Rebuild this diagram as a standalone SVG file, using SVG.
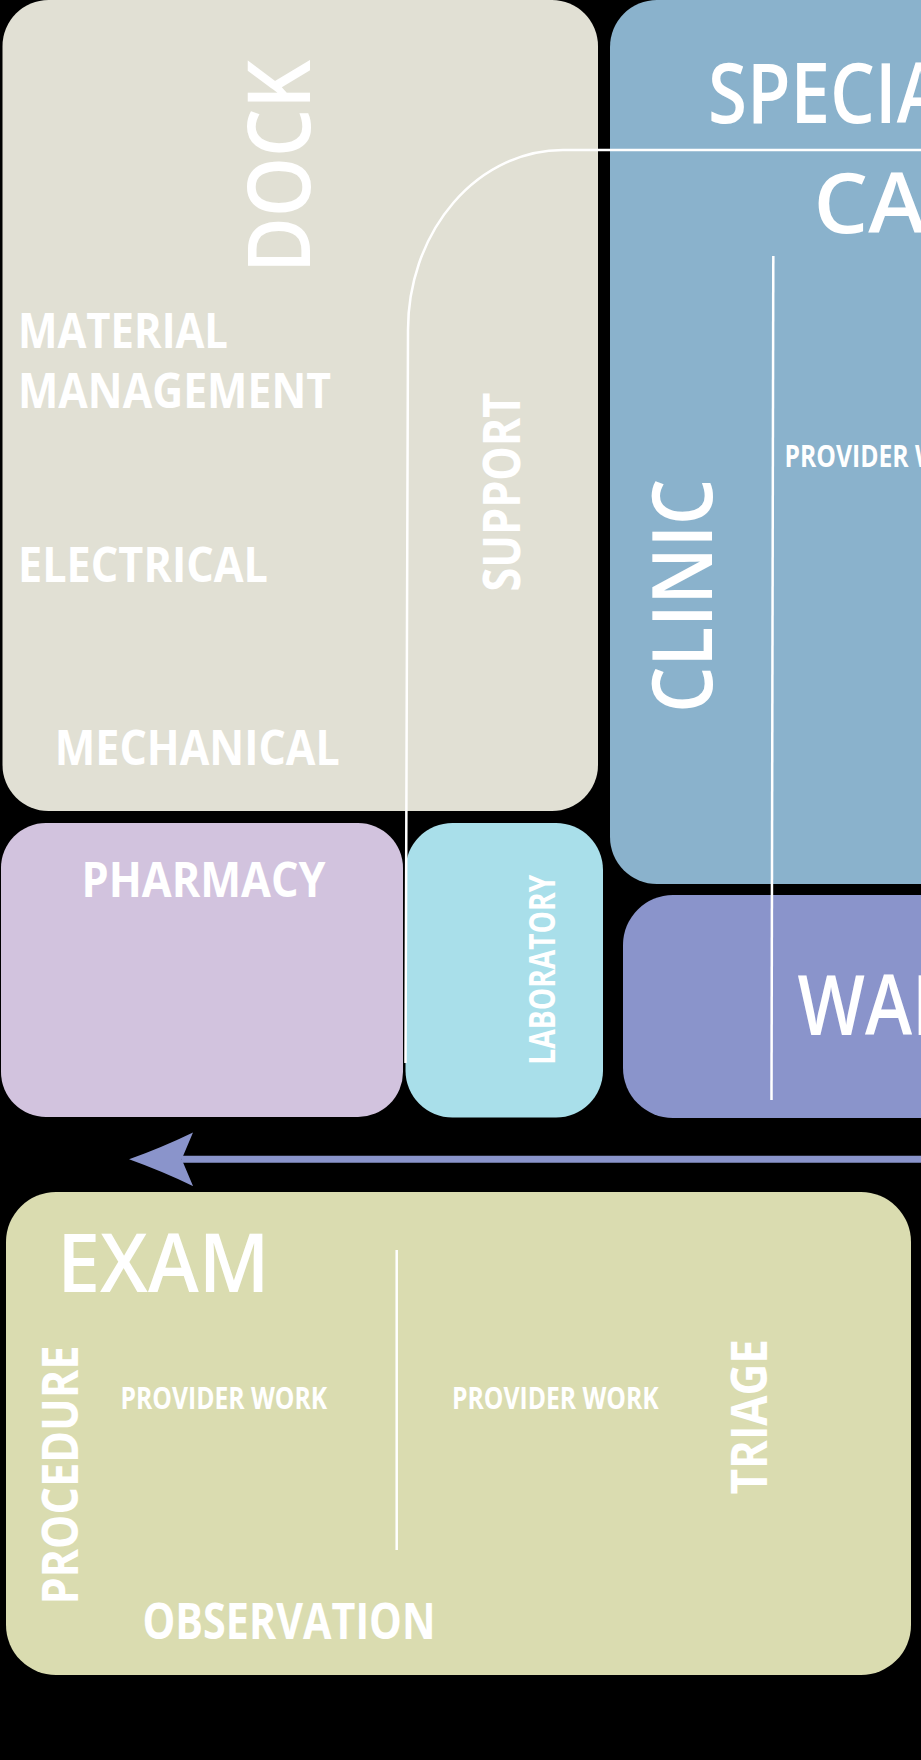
<svg xmlns="http://www.w3.org/2000/svg" width="921" height="1760" viewBox="0 0 921 1760">
  <style>
    .bg { fill: #000000; }
    .dock { fill: #E1E0D4; }
    .spec { fill: #8AB2CC; }
    .pharm { fill: #D2C3DE; }
    .lab { fill: #A9DFEA; }
    .wait { fill: #8A94CB; }
    .exam { fill: #DADCB0; }
    .lbl { fill: #FFFFFF; font-family: "Open Sans", "Noto Sans", "DejaVu Sans", sans-serif; }
    .big { font-weight: 600; }
    .bold { font-weight: 700; }
    .divider { fill: none; stroke: #FFFFFF; stroke-width: 2.5; }
    .flow { fill: none; stroke: #8A94CB; stroke-width: 7; }
  </style>
  <defs>
    <marker id="arrowhead" markerUnits="userSpaceOnUse" markerWidth="64" markerHeight="54" viewBox="0 0 62 52" refX="11" refY="26" orient="auto">
      <path d="M0,0 Q30,14.5 62,26 Q30,37.5 0,52 L11,26 Z" fill="#8A94CB"/>
    </marker>
  </defs>

  <rect class="bg" x="0" y="0" width="921" height="1760"/>

  <g id="dock">
    <rect class="dock" x="2.5" y="0" width="595.5" height="811" rx="46" ry="46"/>
    <text class="lbl big" font-size="87" textLength="213" lengthAdjust="spacingAndGlyphs" transform="translate(310,273) rotate(-90)">DOCK</text>
    <text class="lbl bold" x="18" y="348" font-size="49" textLength="210" lengthAdjust="spacingAndGlyphs">MATERIAL</text>
    <text class="lbl bold" x="18" y="408" font-size="49" textLength="313" lengthAdjust="spacingAndGlyphs">MANAGEMENT</text>
    <text class="lbl bold" x="18" y="581.7" font-size="49" textLength="250" lengthAdjust="spacingAndGlyphs">ELECTRICAL</text>
    <text class="lbl bold" x="54.8" y="765" font-size="49" textLength="285" lengthAdjust="spacingAndGlyphs">MECHANICAL</text>
    <text class="lbl bold" font-size="52" textLength="199" lengthAdjust="spacingAndGlyphs" transform="translate(520,591.6) rotate(-90)">SUPPORT</text>
  </g>

  <g id="specialty-care">
    <rect class="spec" x="610" y="0" width="400" height="884" rx="47" ry="47"/>
    <text class="lbl big" x="708" y="122.7" font-size="84" textLength="356" lengthAdjust="spacingAndGlyphs">SPECIALTY</text>
    <text class="lbl big" x="813.6" y="233" font-size="84" textLength="215" lengthAdjust="spacingAndGlyphs">CARE</text>
    <text class="lbl big" font-size="84" textLength="234" lengthAdjust="spacingAndGlyphs" transform="translate(711.7,712.8) rotate(-90)">CLINIC</text>
    <text class="lbl bold" x="784.5" y="466.5" font-size="30" textLength="206.7" lengthAdjust="spacingAndGlyphs">PROVIDER WORK</text>
  </g>

  <g id="pharmacy">
    <rect class="pharm" x="1" y="823" width="402" height="294" rx="45" ry="45"/>
    <text class="lbl bold" x="81.5" y="896.7" font-size="49" textLength="244" lengthAdjust="spacingAndGlyphs">PHARMACY</text>
  </g>

  <g id="laboratory">
    <rect class="lab" x="405.5" y="823" width="197.5" height="294.5" rx="47" ry="47"/>
    <text class="lbl bold" font-size="35" textLength="190" lengthAdjust="spacingAndGlyphs" transform="translate(555,1064.7) rotate(-90)">LABORATORY</text>
  </g>

  <g id="waiting">
    <rect class="wait" x="623" y="895" width="400" height="223" rx="50" ry="50"/>
    <text class="lbl big" x="797.5" y="1035" font-size="84" textLength="306" lengthAdjust="spacingAndGlyphs">WAITING</text>
  </g>

  <g id="exam">
    <rect class="exam" x="6" y="1192" width="905" height="483" rx="50" ry="50"/>
    <line class="divider" x1="396.7" y1="1250" x2="396.7" y2="1550" stroke-width="2"/>
    <text class="lbl big" x="57.2" y="1291.7" font-size="82" textLength="212.3" lengthAdjust="spacingAndGlyphs">EXAM</text>
    <text class="lbl bold" font-size="51" textLength="259" lengthAdjust="spacingAndGlyphs" transform="translate(78.3,1604.6) rotate(-90)">PROCEDURE</text>
    <text class="lbl bold" x="120.5" y="1409.3" font-size="30" textLength="206.7" lengthAdjust="spacingAndGlyphs">PROVIDER WORK</text>
    <text class="lbl bold" x="452" y="1409.3" font-size="30" textLength="206.7" lengthAdjust="spacingAndGlyphs">PROVIDER WORK</text>
    <text class="lbl bold" font-size="51" textLength="155" lengthAdjust="spacingAndGlyphs" transform="translate(766.7,1494.3) rotate(-90)">TRIAGE</text>
    <text class="lbl bold" x="142.5" y="1639.3" font-size="50" textLength="293" lengthAdjust="spacingAndGlyphs">OBSERVATION</text>
  </g>

  <g id="connectors">
    <path class="divider" d="M 930 150 H 563 A 155 180 0 0 0 408 330 L 405.5 1063"/>
    <line class="divider" x1="773.3" y1="256" x2="771.5" y2="1100"/>
    <line class="flow" x1="940" y1="1159.3" x2="181.7" y2="1159.3" marker-end="url(#arrowhead)"/>
  </g>
</svg>
